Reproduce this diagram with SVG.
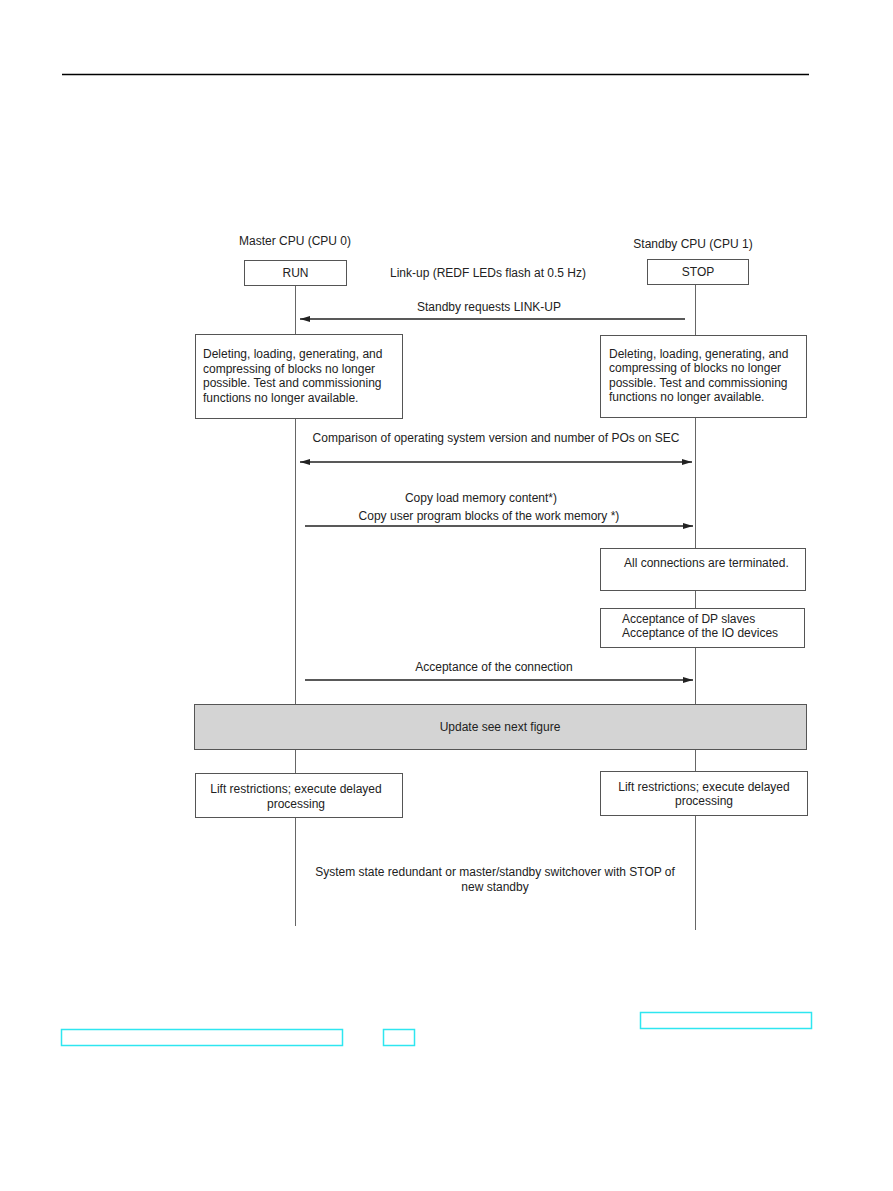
<svg xmlns="http://www.w3.org/2000/svg" width="893" height="1191" viewBox="0 0 893 1191">
<defs>
<style>
text{font-family:"Liberation Sans",Arial,sans-serif;font-size:12px;fill:#222}
.c{text-anchor:middle}
.box{fill:#fff;stroke:#555;stroke-width:1}
.life{stroke:#666;stroke-width:1;fill:none}
.arr{stroke:#222;stroke-width:1.5;fill:none}
.link{fill:none;stroke:#2ee6f0;stroke-width:1.5}
</style>
<marker id="ah" viewBox="0 0 10 6" refX="10" refY="3" markerWidth="10" markerHeight="6" markerUnits="userSpaceOnUse" orient="auto-start-reverse">
<path d="M0,0 L10,3 L0,6 Z" fill="#222"/>
</marker>
</defs>
<rect width="893" height="1191" fill="#fff"/>
<line x1="62" y1="74.5" x2="809" y2="74.5" stroke="#000" stroke-width="1.5"/>
<g id="connectors">
<line class="life" x1="295.5" y1="285" x2="295.5" y2="926"/>
<line class="life" x1="695.5" y1="284" x2="695.5" y2="930"/>
<line class="arr" x1="685" y1="319" x2="300" y2="319" marker-end="url(#ah)"/>
<line class="arr" x1="300" y1="462" x2="692" y2="462" marker-start="url(#ah)" marker-end="url(#ah)"/>
<line class="arr" x1="305" y1="526" x2="693" y2="526" marker-end="url(#ah)"/>
<line class="arr" x1="305" y1="680" x2="693" y2="680" marker-end="url(#ah)"/>
</g>
<g id="master-label"><text x="295" y="245" class="c">Master CPU (CPU 0)</text></g>
<g id="standby-label"><text x="693" y="248" class="c">Standby CPU (CPU 1)</text></g>
<g id="run"><rect class="box" x="244.5" y="260.5" width="102" height="25"/><text x="295.5" y="277" class="c">RUN</text></g>
<g id="stop"><rect class="box" x="647.5" y="259.5" width="101" height="25"/><text x="698" y="276" class="c">STOP</text></g>
<g id="linkup-label"><text x="488" y="277" class="c">Link-up (REDF LEDs flash at 0.5 Hz)</text></g>
<g id="req-label"><text x="489" y="311" class="c">Standby requests LINK-UP</text></g>
<g id="master-restrict"><rect class="box" x="195.5" y="334.5" width="207" height="84"/>
<text x="203" y="358">Deleting, loading, generating, and</text>
<text x="203" y="372.5">compressing of blocks no longer</text>
<text x="203" y="387">possible. Test and commissioning</text>
<text x="203" y="401.5">functions no longer available.</text></g>
<g id="standby-restrict"><rect class="box" x="600.5" y="335.5" width="206" height="82"/>
<text x="609" y="358">Deleting, loading, generating, and</text>
<text x="609" y="372">compressing of blocks no longer</text>
<text x="609" y="386.5">possible. Test and commissioning</text>
<text x="609" y="401">functions no longer available.</text></g>
<g id="compare-label"><text x="496" y="442" class="c">Comparison of operating system version and number of POs on SEC</text></g>
<g id="copy-label"><text x="481" y="502" class="c">Copy load memory content*)</text><text x="489" y="519.5" class="c">Copy user program blocks of the work memory *)</text></g>
<g id="terminated"><rect class="box" x="600.5" y="548.5" width="205" height="42"/><text x="624" y="567">All connections are terminated.</text></g>
<g id="acceptance-dp"><rect class="box" x="600.5" y="608.5" width="204" height="39"/><text x="622" y="623">Acceptance of DP slaves</text><text x="622" y="637">Acceptance of the IO devices</text></g>
<g id="accept-conn-label"><text x="494" y="671" class="c">Acceptance of the connection</text></g>
<g id="update"><rect x="194.5" y="704.5" width="612" height="45" fill="#d4d4d4" stroke="#555"/><text x="500" y="731" class="c">Update see next figure</text></g>
<g id="master-lift"><rect class="box" x="195.5" y="773.5" width="207" height="44"/><text x="296" y="793" class="c">Lift restrictions; execute delayed</text><text x="296" y="808" class="c">processing</text></g>
<g id="standby-lift"><rect class="box" x="600.5" y="771.5" width="207" height="44"/><text x="704" y="791" class="c">Lift restrictions; execute delayed</text><text x="704" y="805" class="c">processing</text></g>
<g id="final-label"><text x="495" y="876" class="c">System state redundant or master/standby switchover with STOP of</text><text x="495" y="891" class="c">new standby</text></g>
<rect class="link" x="640.5" y="1012.5" width="171" height="16"/>
<rect class="link" x="61.5" y="1029.5" width="281" height="16"/>
<rect class="link" x="383.5" y="1029.5" width="31" height="16"/>
</svg>
